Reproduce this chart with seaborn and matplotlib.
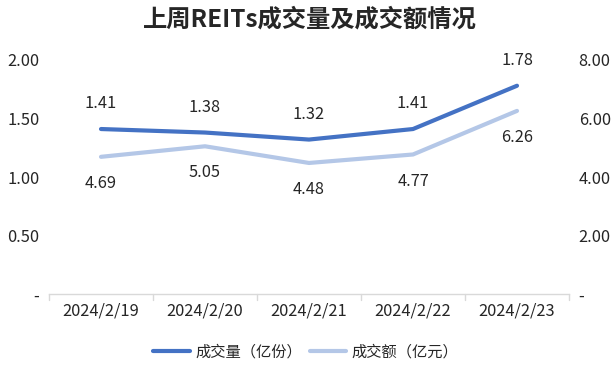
import matplotlib
matplotlib.use("Agg")
import matplotlib.pyplot as plt
import seaborn as sns
import pandas as pd
from matplotlib.lines import Line2D

dates = ["2024/2/19", "2024/2/20", "2024/2/21", "2024/2/22", "2024/2/23"]
volume = [1.41, 1.38, 1.32, 1.41, 1.78]      # 成交量（亿份）
turnover = [4.69, 5.05, 4.48, 4.77, 6.26]    # 成交额（亿元）
left_ticks = [0, 0.5, 1.0, 1.5, 2.0]
right_ticks = [0, 2, 4, 6, 8]
title = "上周REITs成交量及成交额情况"
name_vol = "成交量（亿份）"
name_turn = "成交额（亿元）"

sns.set_style("white")
plt.rcParams['font.family'] = ['Noto Sans CJK SC', 'DejaVu Sans']

c_dark = "#4472c4"
c_light = "#b4c7e7"
txt = "#262626"
num_size = 11.8

df = pd.DataFrame({"date": dates, "volume": volume, "turnover": turnover})
df["x"] = range(len(dates))

fig = plt.figure(figsize=(6.15, 3.65), dpi=100)
ax = fig.add_axes([49/615, 1-294/365, (569-49)/615, (294-60)/365])
ax2 = ax.twinx()

sns.lineplot(data=df, x="x", y="volume", ax=ax, color=c_dark, linewidth=3, legend=False)
sns.lineplot(data=df, x="x", y="turnover", ax=ax2, color=c_light, linewidth=3, legend=False)

ax.set_xlim(-0.5, len(dates)-0.5)
ax.set_ylim(0, 2.0)
ax2.set_ylim(0, 8.0)

def fmt(v):
    return "-" if v == 0 else f"{v:.2f}"

ax.set_yticks(left_ticks)
ax.set_yticklabels([fmt(v) for v in left_ticks])
ax2.set_yticks(right_ticks)
ax2.set_yticklabels([fmt(v) for v in right_ticks])
ax.set_xticks(range(len(dates)))
ax.set_xticklabels(dates)
ax.set_xlabel("")
ax.set_ylabel("")
ax2.set_ylabel("")

for a in (ax, ax2):
    for s in a.spines.values():
        s.set_visible(False)
ax.spines["bottom"].set_visible(True)
ax.spines["bottom"].set_color("#d9d9d9")
ax.spines["bottom"].set_linewidth(1)

ax.tick_params(axis="y", length=0, pad=7, labelsize=num_size, labelcolor=txt)
ax2.tick_params(axis="y", length=0, pad=7, labelsize=num_size, labelcolor=txt)
ax.tick_params(axis="x", length=0, pad=6, labelsize=num_size, labelcolor=txt)

# category separator ticks on x axis
for i in range(len(dates)+1):
    ax.plot([i-0.5, i-0.5], [0, -0.05], color="#d9d9d9", lw=1, clip_on=False)

for i, v in enumerate(volume):
    ax.annotate(f"{v:.2f}", (i, v), xytext=(0, 12), textcoords="offset points",
                ha="center", va="bottom", fontsize=num_size, color=txt)
for i, v in enumerate(turnover):
    ax2.annotate(f"{v:.2f}", (i, v), xytext=(0, -13), textcoords="offset points",
                 ha="center", va="top", fontsize=num_size, color=txt)

fig.text(310/615, 1-20/365, title, ha="center", va="center", fontsize=17.5, fontweight="bold", color=txt)

handles = [Line2D([], [], color=c_dark, lw=3), Line2D([], [], color=c_light, lw=3)]
fig.legend(handles, [name_vol, name_turn], loc="center", bbox_to_anchor=(306/615, 1-352/365),
           ncol=2, frameon=False, fontsize=11, handlelength=2.4, columnspacing=0.5,
           handletextpad=0.35, labelcolor=txt, borderpad=0)

fig.savefig("out.png", dpi=100)
